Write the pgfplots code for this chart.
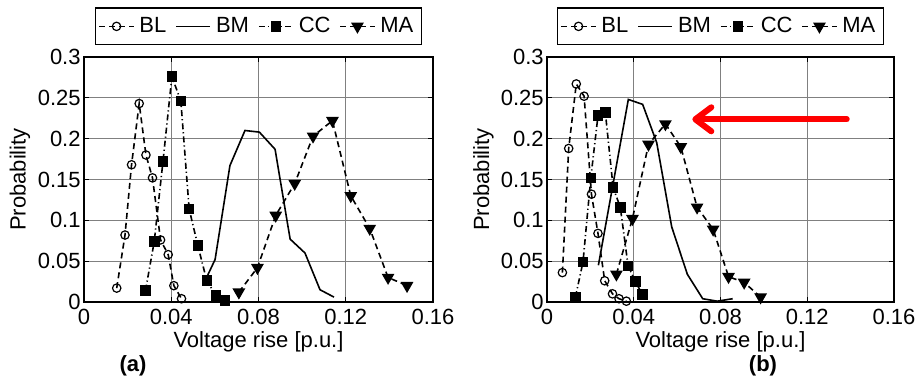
\documentclass[border=0pt]{standalone}
\usepackage{fontspec}
\setmainfont{Liberation Sans}
\usepackage{pgfplots}
\pgfplotsset{compat=1.18}
\usetikzlibrary{arrows.meta}

\pgfplotsset{
  panel/.style={
    scale only axis,
    width=174.5pt, height=122.5pt,
    xmin=0, xmax=0.16, ymin=0, ymax=0.3,
    xtick={0,0.04,0.08,0.12,0.16},
    ytick={0,0.05,0.1,0.15,0.2,0.25,0.3},
    scaled ticks=false,
    /pgf/number format/fixed,
    /pgf/number format/precision=2,
    /pgf/number format/assume math mode=true,
    tick align=inside,
    major tick length=2.5pt,
    tick style={black, line width=0.4pt},
    xtick pos=both, ytick pos=both,
    grid=major,
    grid style={black!50, line width=0.45pt},
    axis line style={black, line width=0.7pt},
    tick label style={font=\fontsize{11}{13}\selectfont},
    yticklabel style={inner xsep=1.5pt},
    xlabel={Voltage rise [p.u.]},
    ylabel={Probability},
    xlabel style={font=\fontsize{11}{13}\selectfont, at={(axis description cs:0.5,-0.118)}, anchor=north, inner sep=0pt},
    ylabel style={font=\fontsize{11}{13}\selectfont, at={(axis description cs:-0.1834,0.5)}, anchor=center, inner sep=0pt, rotate=0},
    legend columns=4,
    legend style={at={(axis description cs:0.5,1.125)}, anchor=center,
      draw=black, line width=0.7pt, fill=white,
      font=\fontsize{11}{13}\selectfont,
      inner xsep=1.5pt, inner ysep=3pt,
      /tikz/every even column/.append style={column sep=2pt},
      nodes={inner xsep=2.5pt, inner ysep=1.5pt}},
  },
  bl/.style={black, line width=0.8pt, dash pattern=on 3pt off 2pt, mark=o, mark size=2.1pt, mark options={solid, line width=0.6pt, fill=white}},
  bm/.style={black, line width=0.8pt, solid, mark=none},
  cc/.style={black, line width=0.8pt, dash pattern=on 3pt off 1.5pt on 0.6pt off 1.5pt, mark=square*, mark size=2.25pt, mark options={solid, fill=black}},
  ma/.style={black, line width=0.8pt, dash pattern=on 3pt off 2pt, mark=triangle*, mark size=2.9pt, mark options={solid, fill=black, rotate=180}},
}

\begin{document}
\begin{tikzpicture}
\useasboundingbox (0,0) rectangle (460pt,191.5pt);

% ---------------- (a) ----------------
\begin{axis}[panel, name=pa, at={(42pt,40.5pt)}, anchor=south west]
\addplot[bl] coordinates {
(0.0150,0.017) (0.0188,0.082) (0.0218,0.168) (0.0253,0.243) (0.0284,0.180)
(0.0314,0.152) (0.0351,0.076) (0.0386,0.058) (0.0412,0.020) (0.0447,0.004)};
\addlegendentry{BL}
\addplot[bm] coordinates {
(0.0555,0.026) (0.0601,0.052) (0.0669,0.167) (0.0738,0.210) (0.0804,0.208)
(0.0876,0.187) (0.0945,0.077) (0.1013,0.060) (0.1082,0.015) (0.1146,0.006)};
\addlegendentry{BM}
\addplot[cc] coordinates {
(0.0282,0.014) (0.0322,0.074) (0.0362,0.172) (0.0403,0.276) (0.0444,0.246)
(0.0482,0.114) (0.0522,0.069) (0.0563,0.026) (0.0605,0.008) (0.0646,0.002)};
\addlegendentry{CC}
\addplot[ma] coordinates {
(0.0710,0.012) (0.0795,0.042) (0.0879,0.106) (0.0966,0.145) (0.1050,0.203)
(0.1139,0.222) (0.1223,0.130) (0.1310,0.090) (0.1394,0.030) (0.1481,0.020)};
\addlegendentry{MA}
\end{axis}

% ---------------- (b) ----------------
\begin{axis}[panel, name=pb, width=173.5pt, at={(273.5pt,40.5pt)}, anchor=south west]
\addplot[bl] coordinates {
(0.0071,0.036) (0.0100,0.188) (0.0135,0.267) (0.0171,0.252) (0.0205,0.132)
(0.0235,0.084) (0.0266,0.026) (0.0302,0.010) (0.0332,0.004) (0.0366,0.001)};
\addlegendentry{BL}
\addplot[bm] coordinates {
(0.0237,0.045) (0.0375,0.248) (0.0441,0.242) (0.0506,0.195) (0.0575,0.092)
(0.0647,0.034) (0.0718,0.004) (0.0785,0.001) (0.0856,0.004)};
\addlegendentry{BM}
\addplot[cc] coordinates {
(0.0131,0.006) (0.0166,0.049) (0.0202,0.152) (0.0235,0.228) (0.0269,0.232)
(0.0305,0.140) (0.0338,0.116) (0.0374,0.044) (0.0408,0.025) (0.0440,0.009)};
\addlegendentry{CC}
\addplot[ma] coordinates {
(0.0320,0.034) (0.0394,0.102) (0.0468,0.193) (0.0546,0.218) (0.0617,0.190)
(0.0692,0.116) (0.0766,0.089) (0.0837,0.031) (0.0909,0.024) (0.0985,0.006)};
\addlegendentry{MA}
\draw[red, line width=3pt, line cap=round, -{Straight Barb[length=8pt, width=12pt, round]}]
  (axis cs:0.1382,0.2237) -- (axis cs:0.0670,0.2237);
\end{axis}

\node[font=\fontsize{11}{13}\selectfont\bfseries] at (66.5pt,8.5pt) {(a)};
\node[font=\fontsize{11}{13}\selectfont\bfseries] at (381.5pt,8.5pt) {(b)};
\end{tikzpicture}
\end{document}
